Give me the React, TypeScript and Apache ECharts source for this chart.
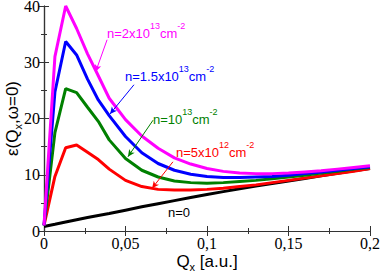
import React, { useEffect, useRef } from "react";
import * as echarts from "echarts";

const Q = [0, 0.0067, 0.0133, 0.02, 0.0267, 0.0333, 0.04, 0.05, 0.06, 0.07, 0.08, 0.09, 0.1, 0.11, 0.12, 0.13, 0.14, 0.15, 0.16, 0.17, 0.18, 0.19, 0.2];
const epsN20 = [1, 31, 40, 36, 31.5, 27.6, 23.6, 19.8, 16.9, 14.7, 13.0, 11.9, 11.1, 10.6, 10.3, 10.2, 10.2, 10.3, 10.5, 10.7, 11.0, 11.3, 11.6];
const epsN15 = [1, 24.7, 33.7, 31.3, 27, 23.3, 20.5, 16.8, 13.9, 12.0, 10.8, 10.1, 9.7, 9.5, 9.5, 9.6, 9.7, 9.9, 10.2, 10.5, 10.8, 11.1, 11.4];
const epsN10 = [1, 17.5, 25.3, 24.6, 22.0, 19.5, 16.2, 12.9, 10.8, 9.6, 8.9, 8.6, 8.5, 8.6, 8.8, 9.0, 9.3, 9.6, 9.9, 10.3, 10.6, 11.0, 11.3];
const epsN05 = [1, 9.7, 14.8, 15.3, 14.0, 12.7, 11.0, 9.0, 7.9, 7.4, 7.3, 7.3, 7.4, 7.6, 7.9, 8.2, 8.6, 9.0, 9.4, 9.8, 10.2, 10.6, 11.1];
const epsN0 = [0.8, 1.2, 1.6, 2.0, 2.4, 2.75, 3.1, 3.7, 4.3, 4.85, 5.4, 5.95, 6.5, 7.0, 7.5, 8.0, 8.45, 8.9, 9.35, 9.8, 10.25, 10.7, 11.1];

const xTicks = [0, 0.05, 0.1, 0.15, 0.2];
const yTicks = [0, 10, 20, 30, 40];

// arrows: [fromQ, fromEps, toQ, toEps]
const arrowN20 = [0.0387, 34, 0.0317, 28.3];
const arrowN15 = [0.0552, 26, 0.0405, 20.8];
const arrowN10 = [0.0669, 19.7, 0.0515, 13.2];
const arrowN05 = [0.0791, 12.3, 0.0663, 7.6];

const C20 = "#ff00ff";
const C15 = "#0000ff";
const C10 = "#008000";
const C05 = "#ff0000";
const C0 = "#000000";

const SANS = "Liberation Sans, Arial, sans-serif";
const SERIF = "Liberation Serif, Times New Roman, serif";

function pairs(ys: number[]) {
  return Q.map((q, i) => [q, ys[i]]);
}

function arrow(a: number[], color: string) {
  return {
    silent: true,
    symbol: ["none", "arrow"],
    symbolSize: [5, 7],
    label: { show: false },
    lineStyle: { color, width: 1, type: "solid" },
    data: [[{ coord: [a[0], a[1]] }, { coord: [a[2], a[3]] }]],
  };
}

function labelRich(color: string) {
  return {
    m: { fontSize: 13, lineHeight: 24, fontFamily: SANS, color, verticalAlign: "middle" },
    s: { fontSize: 9, lineHeight: 9, fontFamily: SANS, color, verticalAlign: "top" },
  };
}

function textEl(x: number, baseline: number, text: string, color: string) {
  return {
    type: "text",
    x,
    y: baseline - 4.5,
    silent: true,
    style: {
      text,
      rich: labelRich(color),
      align: "left",
      verticalAlign: "middle",
      fill: color,
    },
  };
}

const fmt = (v: number) => String(Number(v.toFixed(3))).replace(".", ",");

const nameRich = {
  m: { fontSize: 17, lineHeight: 22, fontFamily: SANS, color: "#000", verticalAlign: "middle" },
  b: { fontSize: 11, lineHeight: 11, fontFamily: SANS, color: "#000", verticalAlign: "bottom" },
};

export default function App() {
  const ref = useRef<HTMLDivElement>(null);
  useEffect(() => {
    if (!ref.current) return;
    const chart = echarts.init(ref.current, null, { renderer: "svg" });
    const axisLine = { show: true, lineStyle: { color: "#333", width: 1.2 } };
    const tick = { show: true, inside: true, length: 5, lineStyle: { color: "#333", width: 1 } };
    const minor = { show: true, splitNumber: 2, length: 3, lineStyle: { color: "#333", width: 1 } };
    const xBase = {
      type: "value",
      min: xTicks[0],
      max: xTicks[xTicks.length - 1],
      interval: xTicks[1] - xTicks[0],
      axisLine,
      axisTick: tick,
      minorTick: minor,
      splitLine: { show: false },
      minorSplitLine: { show: false },
    };
    const yBase = {
      type: "value",
      min: yTicks[0],
      max: yTicks[yTicks.length - 1],
      interval: yTicks[1] - yTicks[0],
      axisLine,
      axisTick: tick,
      minorTick: minor,
      splitLine: { show: false },
      minorSplitLine: { show: false },
    };
    chart.setOption({
      animation: false,
      backgroundColor: "#fff",
      grid: { left: 44, right: 12, top: 6, bottom: 42, containLabel: false, outerBoundsMode: "none" },
      xAxis: [
        {
          ...xBase,
          position: "bottom",
          axisLabel: { show: true, formatter: fmt, fontFamily: SERIF, fontSize: 16, color: "#000", margin: 4 },
          name: "{m|Q}{b|x}{m| [a.u.]}",
          nameLocation: "middle",
          nameGap: 19,
          nameMoveOverlap: false,
          nameTextStyle: { rich: nameRich },
        },
        { ...xBase, position: "top", axisLabel: { show: false } },
      ],
      yAxis: [
        {
          ...yBase,
          position: "left",
          axisLabel: { show: true, fontFamily: SERIF, fontSize: 16, lineHeight: 12, color: "#000", margin: 4 },
          name: "{m|ε(Q}{b|x}{m|,ω=0)}",
          nameLocation: "middle",
          nameRotate: 90,
          nameGap: 21,
          nameMoveOverlap: false,
          nameTextStyle: { rich: nameRich },
        },
        { ...yBase, position: "right", axisLabel: { show: false } },
      ],
      series: [
        { type: "line", name: "n=0", data: pairs(epsN0), showSymbol: false, lineStyle: { color: C0, width: 3 }, itemStyle: { color: C0 } },
        { type: "line", name: "n=5e12", data: pairs(epsN05), showSymbol: false, lineStyle: { color: C05, width: 3 }, itemStyle: { color: C05 }, markLine: arrow(arrowN05, C05) },
        { type: "line", name: "n=1e13", data: pairs(epsN10), showSymbol: false, lineStyle: { color: C10, width: 3 }, itemStyle: { color: C10 }, markLine: arrow(arrowN10, C10) },
        { type: "line", name: "n=1.5e13", data: pairs(epsN15), showSymbol: false, lineStyle: { color: C15, width: 3 }, itemStyle: { color: C15 }, markLine: arrow(arrowN15, C15) },
        { type: "line", name: "n=2e13", data: pairs(epsN20), showSymbol: false, lineStyle: { color: C20, width: 3 }, itemStyle: { color: C20 }, markLine: arrow(arrowN20, C20) },
      ],
      graphic: [
        textEl(107, 38, "{m|n=2x10}{s|13}{m|cm}{s|-2}", C20),
        textEl(125, 81, "{m|n=1.5x10}{s|13}{m|cm}{s|-2}", C15),
        textEl(153, 124, "{m|n=10}{s|13}{m|cm}{s|-2}", C10),
        textEl(176, 157, "{m|n=5x10}{s|12}{m|cm}{s|-2}", C05),
        textEl(168, 217, "{m|n=0}", C0),
      ],
    });
    return () => chart.dispose();
  }, []);
  return <div ref={ref} style={{ position: "fixed", left: 0, top: 0, width: 382, height: 273 }} />;
}
